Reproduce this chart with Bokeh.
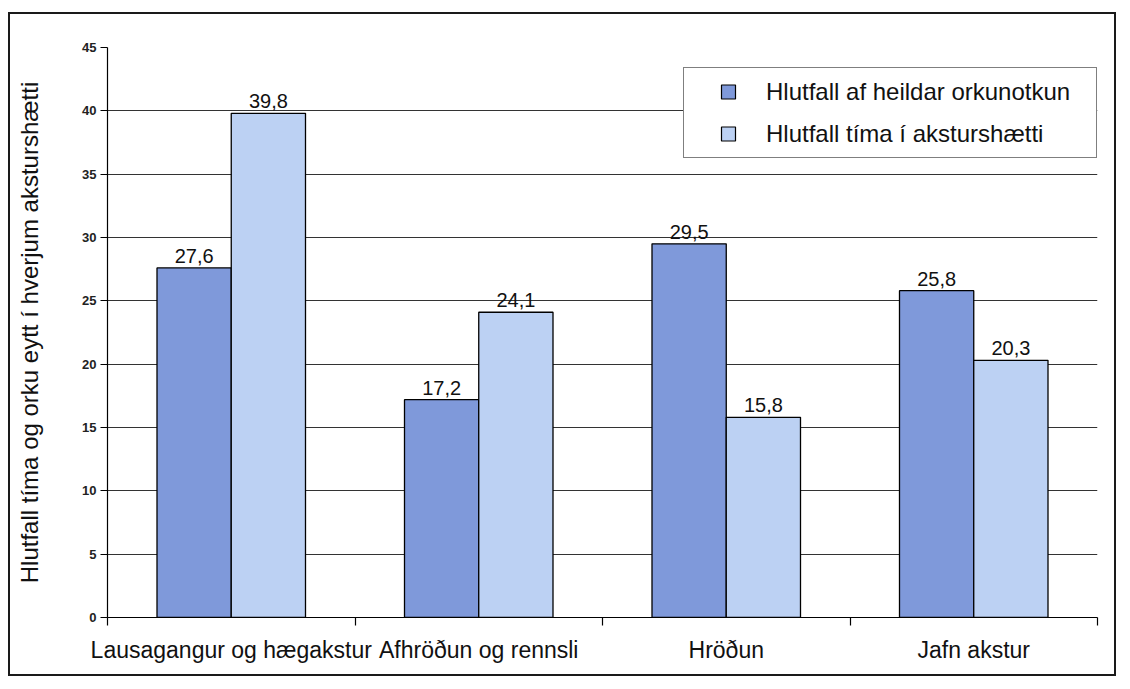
from bokeh.plotting import figure
from bokeh.models import ColumnDataSource, FixedTicker, Legend, LegendItem
from bokeh.core.properties import value
from bokeh.embed import file_html
from bokeh.resources import INLINE

# ---- data ----
categories = ["Lausagangur og hægakstur", "Afhröðun og rennsli", "Hröðun", "Jafn akstur"]
orka = [27.6, 17.2, 29.5, 25.8]
timi = [39.8, 24.1, 15.8, 20.3]
series_names = ["Hlutfall af heildar orkunotkun", "Hlutfall tíma í aksturshætti"]
y_ticks = [0, 5, 10, 15, 20, 25, 30, 35, 40, 45]
y_label = "Hlutfall tíma og orku eytt í hverjum aksturshætti"

dark = "#7f99da"
light = "#bcd1f3"
FONT = "Liberation Sans"

def fmt(v):
    return f"{v:.1f}".replace(".", ",")

centers = [i + 0.5 for i in range(len(categories))]
src_a = ColumnDataSource(dict(x=[c - 0.15 for c in centers], top=orka, lab=[fmt(v) for v in orka]))
src_b = ColumnDataSource(dict(x=[c + 0.15 for c in centers], top=timi, lab=[fmt(v) for v in timi]))

p = figure(width=1108, height=664, x_range=(0, 4), y_range=(0, 45),
           output_backend="svg", toolbar_location=None,
           min_border_left=97, min_border_top=33, min_border_right=21, min_border_bottom=61)
p.styles = {"border": "2px solid #1a1a1a", "margin-left": "8px", "margin-top": "12px"}
p.outline_line_color = None
p.background_fill_color = "white"
p.border_fill_color = "white"

p.vbar(x="x", top="top", width=0.3, bottom=0, source=src_a, fill_color=dark, line_color="black", line_width=1.3)
p.vbar(x="x", top="top", width=0.3, bottom=0, source=src_b, fill_color=light, line_color="black", line_width=1.3)

for s in (src_a, src_b):
    p.text(x="x", y="top", text="lab", source=s, text_align="center", text_baseline="alphabetic",
           y_offset=-12, text_font_size="20px", text_font=value(FONT), text_color="#111")

# legend swatches: zero-size markers sitting on the bar tops (invisible in plot)
ra = p.scatter(x="x", y="top", source=src_a, size=0, marker="square", fill_color=dark, line_color="black", line_width=1.2)
rb = p.scatter(x="x", y="top", source=src_b, size=0, marker="square", fill_color=light, line_color="black", line_width=1.2)
leg = Legend(items=[LegendItem(label=series_names[0], renderers=[ra], index=0),
                    LegendItem(label=series_names[1], renderers=[rb], index=0)],
             location=(576, 459), orientation="vertical")
leg.glyph_width = 76
leg.glyph_height = 35
leg.label_standoff = 0
leg.padding = 6
leg.spacing = 7
leg.label_width = 324
leg.margin = 0
leg.label_text_font = FONT
leg.label_text_font_size = "24px"
leg.label_text_color = "#111"
leg.border_line_color = "black"
leg.border_line_width = 1.5
leg.background_fill_color = "white"
leg.background_fill_alpha = 1
p.add_layout(leg, "center")

# y axis
p.yaxis.ticker = FixedTicker(ticks=y_ticks)
p.yaxis.axis_label = y_label
p.yaxis.axis_label_text_font = FONT
p.yaxis.axis_label_text_font_size = "24px"
p.yaxis.axis_label_text_font_style = "normal"
p.yaxis.axis_label_text_color = "#111"
p.yaxis.axis_label_standoff = 36
p.yaxis.major_label_text_font = FONT
p.yaxis.major_label_text_font_size = "13px"
p.yaxis.major_label_text_font_style = "bold"
p.yaxis.major_label_text_color = "#222"
p.yaxis.major_label_standoff = 4
p.yaxis.major_tick_out = 7
p.yaxis.major_tick_in = 0
p.yaxis.minor_tick_line_color = None
p.yaxis.axis_line_color = "black"
p.yaxis.axis_line_width = 1.2
p.yaxis.major_tick_line_color = "black"

# x axis: labels at centres, ticks at group boundaries
p.xaxis.ticker = FixedTicker(ticks=centers, minor_ticks=list(range(len(categories) + 1)))
p.xaxis.major_label_overrides = {c: cat for c, cat in zip(centers, categories)}
p.xaxis.major_tick_line_color = None
p.xaxis.major_tick_out = 0
p.xaxis.major_tick_in = 0
p.xaxis.minor_tick_out = 8
p.xaxis.minor_tick_in = 0
p.xaxis.minor_tick_line_color = "black"
p.xaxis.minor_tick_line_width = 1.2
p.xaxis.axis_line_color = "black"
p.xaxis.axis_line_width = 1.2
p.xaxis.major_label_text_font = FONT
p.xaxis.major_label_text_font_size = "23px"
p.xaxis.major_label_text_color = "#111"
p.xaxis.major_label_standoff = 11

p.xgrid.grid_line_color = None
p.ygrid.ticker = FixedTicker(ticks=y_ticks)
p.ygrid.grid_line_color = "#333333"
p.ygrid.grid_line_width = 1

open("out.html", "w").write(file_html(p, INLINE))
